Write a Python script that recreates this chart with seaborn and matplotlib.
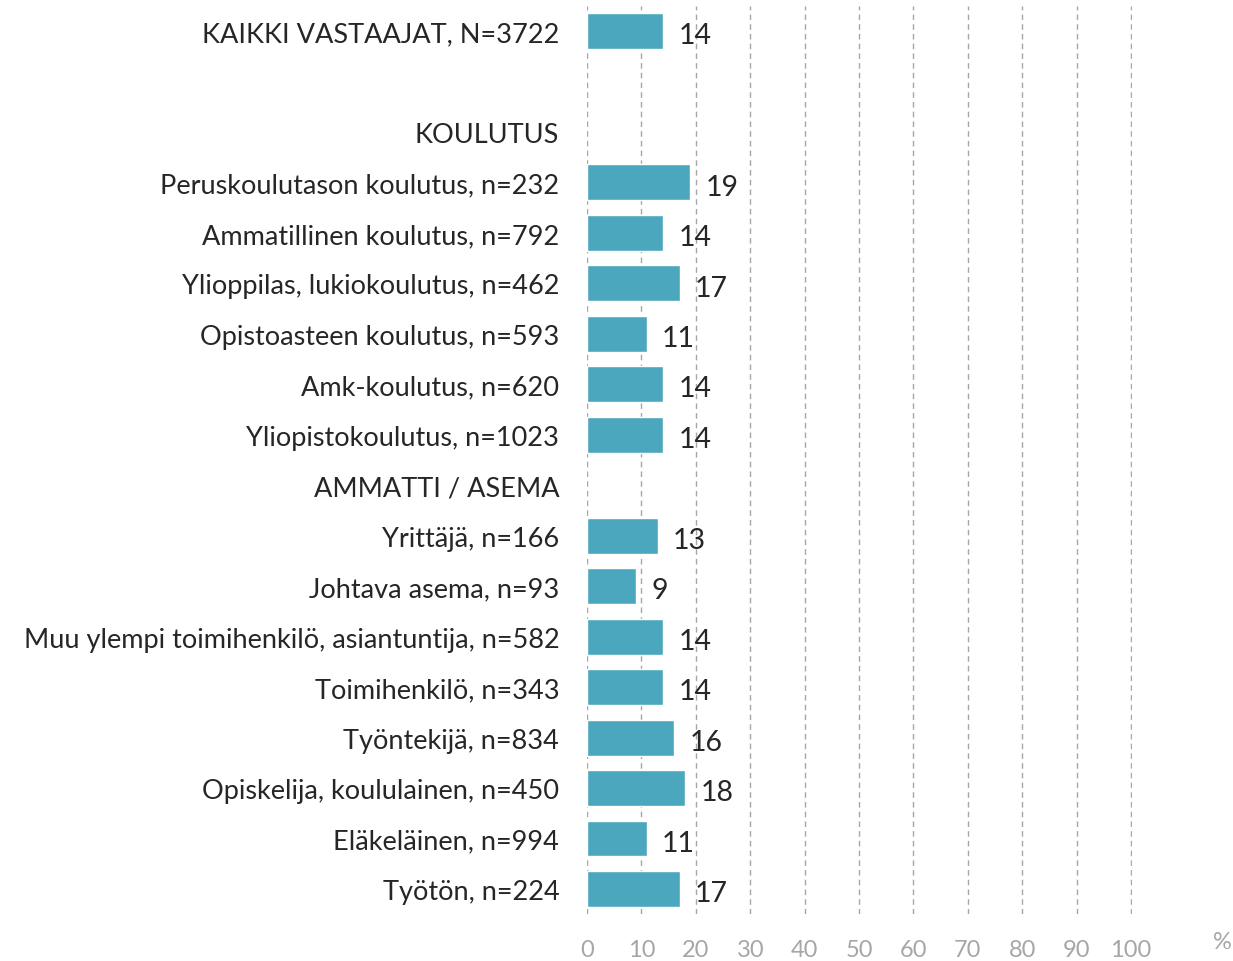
import matplotlib
matplotlib.use("Agg")
import matplotlib.pyplot as plt
import seaborn as sns
import pandas as pd
import numpy as np

# row order as shown, headers and a spacer have no bar
rows = ["KAIKKI VASTAAJAT, N=3722", "", "KOULUTUS",
        "Peruskoulutason koulutus, n=232", "Ammatillinen koulutus, n=792",
        "Ylioppilas, lukiokoulutus, n=462", "Opistoasteen koulutus, n=593",
        "Amk-koulutus, n=620", "Yliopistokoulutus, n=1023",
        "AMMATTI / ASEMA",
        "Yrittäjä, n=166", "Johtava asema, n=93",
        "Muu ylempi toimihenkilö, asiantuntija, n=582", "Toimihenkilö, n=343",
        "Työntekijä, n=834", "Opiskelija, koululainen, n=450",
        "Eläkeläinen, n=994", "Työtön, n=224"]
values = [14, np.nan, np.nan,
          19, 14, 17, 11, 14, 14,
          np.nan,
          13, 9, 14, 14, 16, 18, 11, 17]
x_ticks = [0, 10, 20, 30, 40, 50, 60, 70, 80, 90, 100]

df = pd.DataFrame({"ryhma": rows, "osuus": values})
bars = df.dropna()

sns.set_style("white")
plt.rcParams["font.family"] = ["Lato", "DejaVu Sans"]

fig = plt.figure(figsize=(12.33, 9.62), dpi=100)
ax = fig.add_axes([0.4761, 0.0486, 0.4421, 0.9444])

sns.barplot(data=bars, x="osuus", y="ryhma", order=rows, color="#4BA7BE",
            width=0.71, saturation=1, ax=ax)

labels = ax.bar_label(ax.containers[0],
                      labels=[f"{int(v)}" for v in bars["osuus"]],
                      padding=11, fontsize=20.5, color="#262626")
for t in labels:
    t.xyann = (11, -3)

ax.set_xlim(0, 100.2)
ax.set_ylim(len(rows) - 0.5, -0.5)
ax.set_xticks(x_ticks)
ax.set_xlabel("")
ax.set_ylabel("")
ax.grid(axis="x", color="#A6A6A6", linestyle=(0, (4, 3)), linewidth=1)
ax.grid(axis="y", visible=False)
ax.set_axisbelow(True)
for s in ax.spines.values():
    s.set_visible(False)
ax.tick_params(axis="y", length=0, pad=20, labelsize=19.5, labelcolor="#262626")
ax.tick_params(axis="x", length=0, pad=18, labelsize=17, labelcolor="#A6A6A6")

fig.text(1222 / 1233, 1 - 943 / 962, "%", fontsize=17, color="#A6A6A6",
         ha="center", va="center")

fig.savefig("out.png", dpi=100)
